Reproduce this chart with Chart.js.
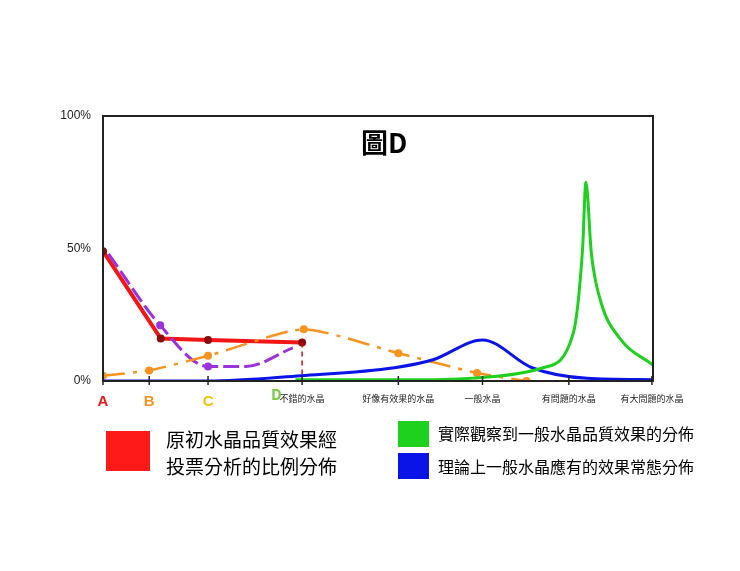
<!DOCTYPE html>
<html lang="zh-Hant">
<head>
<meta charset="UTF-8" />
<title>圖D</title>
<script src="https://cdn.jsdelivr.net/npm/chart.js"></script>
<style>
  body { margin: 0; background: #fff; font-family: "Noto Sans CJK TC", sans-serif; }
  #wrap { position: relative; width: 740px; height: 571px; }
  canvas { position: absolute; left: 0; top: 0; }
  .abs { position: absolute; white-space: nowrap; }
  .box { position: absolute; }
</style>
</head>
<body>
<div id="wrap">
  <canvas id="chart" width="740" height="571"></canvas>
  <div class="abs" style="left:361px;top:122px;font-size:27px;font-weight:bold;">圖D</div>
  <div class="abs" style="left:271px;top:383px;font-size:15px;color:#7ac943;font-weight:bold;">D</div>
  <div class="box" style="left:106px;top:431px;width:44px;height:40px;background:#ff1a1a;"></div>
  <div class="abs" style="left:166px;top:425px;font-size:19px;line-height:27px;">原初水晶品質效果經<br>投票分析的比例分佈</div>
  <div class="box" style="left:398px;top:421px;width:31px;height:26px;background:#1fd11f;"></div>
  <div class="abs" style="left:438px;top:421px;font-size:16px;">實際觀察到一般水晶品質效果的分佈</div>
  <div class="box" style="left:398px;top:453px;width:31px;height:26px;background:#0a14e6;"></div>
  <div class="abs" style="left:438px;top:454px;font-size:16px;">理論上一般水晶應有的效果常態分佈</div>
</div>
<script>
// x positions of the axis categories (0..100 scale)
const tickPos = [0, 8.4, 19.1, 36.2, 53.7, 69, 84.7, 99.8];
const tickLabels = ['A', 'B', 'C', '不錯的水晶', '好像有效果的水晶', '一般水晶', '有問題的水晶', '有大問題的水晶'];
const tickColors = ['#e61919', '#f7931e', '#f5c400', '#222', '#222', '#222', '#222', '#222'];

const redVotes = [{x:0,y:49},{x:10.5,y:16},{x:19.1,y:15.5},{x:36.2,y:14.5}];
const redDrop = [{x:36.2,y:14.5},{x:36.2,y:0}];
const purpleLine = [{x:1,y:48},{x:10.4,y:21},{x:19.1,y:5.5},{x:26,y:5.5},{x:34.5,y:12.5}];
const orangeLine = [{x:0,y:2},{x:8.4,y:4},{x:19.1,y:9.5},{x:36.5,y:19.5},{x:53.7,y:10.5},{x:68,y:3},{x:77,y:0}];
const blueLine = [{x:0,y:0},{x:19,y:0},{x:36,y:2},{x:53,y:5},{x:60,y:8},{x:69,y:15.5},{x:78,y:5},{x:88,y:1},{x:100,y:0.5}];
const greenLine = [{x:35,y:0.5},{x:60,y:0.5},{x:70,y:1.5},{x:80,y:5},{x:85.5,y:18},{x:87.2,y:50},{x:87.8,y:75},{x:88.8,y:48},{x:90.5,y:30},{x:94,y:16},{x:100,y:6}];

const framePlugin = {
  id: 'frame',
  afterDatasetsDraw(chart) {
    const { ctx, chartArea: a, scales } = chart;
    ctx.save();
    ctx.strokeStyle = '#222';
    ctx.lineWidth = 2;
    ctx.strokeRect(a.left, a.top, a.right - a.left, a.bottom - a.top);
    ctx.lineWidth = 1.5;
    tickPos.forEach(v => {
      const px = scales.x.getPixelForValue(v);
      ctx.beginPath();
      ctx.moveTo(px, a.bottom - 5);
      ctx.lineTo(px, a.bottom + 4);
      ctx.stroke();
    });
    ctx.restore();
  }
};

new Chart(document.getElementById('chart'), {
  type: 'line',
  data: {
    datasets: [
      { data: greenLine, borderColor: '#1fd11f', borderWidth: 3, pointRadius: 0, cubicInterpolationMode: 'monotone' },
      { data: blueLine, borderColor: '#0a14e6', borderWidth: 3, pointRadius: 0, cubicInterpolationMode: 'monotone' },
      { data: orangeLine, borderColor: '#f7931e', borderWidth: 2.5, borderDash: [22, 8, 4, 8], pointRadius: 4,
        pointBackgroundColor: '#f7931e', pointBorderWidth: 0, tension: 0.2 },
      { data: purpleLine, borderColor: '#9933dd', borderWidth: 3, borderDash: [16, 5], pointRadius: [0, 4, 4, 0, 0],
        pointBackgroundColor: '#9933dd', pointBorderWidth: 0, cubicInterpolationMode: 'monotone' },
      { data: redDrop, borderColor: '#cc1111', borderWidth: 1.5, borderDash: [5, 4], pointRadius: 0 },
      { data: redVotes, borderColor: '#f21616', borderWidth: 4, pointRadius: 4,
        pointBackgroundColor: '#8b0a0a', pointBorderWidth: 0, tension: 0 }
    ]
  },
  options: {
    responsive: false,
    animation: false,
    layout: { padding: { top: 116, right: 87, left: 0, bottom: 0 } },
    plugins: { legend: { display: false }, tooltip: { enabled: false } },
    scales: {
      x: {
        type: 'linear', min: 0, max: 100,
        grid: { display: false },
        border: { display: false },
        afterBuildTicks: s => { s.ticks = tickPos.map(v => ({ value: v })); },
        afterFit: s => { s.height = 190; },
        ticks: {
          autoSkip: false, maxRotation: 0, padding: 4,
          callback: (v, i) => tickLabels[i],
          color: c => tickColors[c.index],
          font: c => c.index < 3 ? { size: 15, weight: 'bold' } : { size: 9, family: 'Noto Sans CJK TC' }
        }
      },
      y: {
        min: 0, max: 100,
        grid: { display: false },
        border: { display: false },
        afterBuildTicks: s => { s.ticks = [0, 50, 100].map(v => ({ value: v })); },
        afterFit: s => { s.width = 103; },
        ticks: { callback: v => v + '%', color: '#222', font: { size: 12 }, padding: 4 }
      }
    }
  },
  plugins: [framePlugin]
});
</script>
</body>
</html>
